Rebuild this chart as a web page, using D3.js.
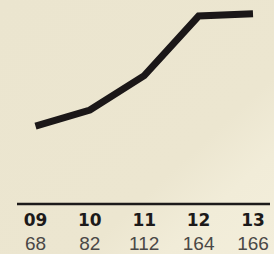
<!DOCTYPE html>
<html>
<head>
<meta charset="utf-8">
<script src="https://cdn.jsdelivr.net/npm/d3@7"></script>
<style>
  html, body { margin: 0; padding: 0; }
  body { width: 274px; height: 254px; overflow: hidden; }
</style>
</head>
<body>
<div id="chart"></div>
<script>
// years and values
var years = ["09", "10", "11", "12", "13"];
var values = [68, 82, 112, 164, 166];

var width = 274, height = 254;

var svg = d3.select("#chart").append("svg")
    .attr("width", width)
    .attr("height", height);

// soft beige background
var defs = svg.append("defs");
var grad = defs.append("linearGradient")
    .attr("id", "bg")
    .attr("x1", "0%").attr("y1", "0%")
    .attr("x2", "100%").attr("y2", "100%");
grad.append("stop").attr("offset", "0%").attr("stop-color", "#ebe5cf");
grad.append("stop").attr("offset", "65%").attr("stop-color", "#ece6d0");
grad.append("stop").attr("offset", "80%").attr("stop-color", "#f1ecd8");
grad.append("stop").attr("offset", "100%").attr("stop-color", "#f3eedb");

svg.append("rect")
    .attr("width", width)
    .attr("height", height)
    .attr("fill", "url(#bg)");

var x = d3.scalePoint()
    .domain(years)
    .range([35.5, 253]);

var y = d3.scaleLinear()
    .domain([0, 178])
    .range([204, 0]);

var data = years.map(function (d, i) { return { year: d, value: values[i] }; });

// baseline
svg.append("line")
    .attr("x1", 17).attr("x2", 270)
    .attr("y1", y(0)).attr("y2", y(0))
    .attr("stroke", "#1c1a1a")
    .attr("stroke-width", 2.5);

var line = d3.line()
    .x(function (d) { return x(d.year); })
    .y(function (d) { return y(d.value); });

svg.append("path")
    .datum(data)
    .attr("d", line)
    .attr("fill", "none")
    .attr("stroke", "#1b1718")
    .attr("stroke-width", 7)
    .attr("stroke-linejoin", "miter")
    .attr("stroke-linecap", "butt");

// year labels
svg.selectAll(".year")
    .data(data)
    .enter().append("text")
    .attr("class", "year")
    .attr("x", function (d) { return x(d.year); })
    .attr("y", 225.5)
    .attr("text-anchor", "middle")
    .style("font-family", "'DejaVu Sans', sans-serif")
    .style("font-weight", "bold")
    .style("font-size", "17px")
    .attr("fill", "#1c1a1a")
    .text(function (d) { return d.year; });

// value labels
svg.selectAll(".val")
    .data(data)
    .enter().append("text")
    .attr("class", "val")
    .attr("x", function (d) { return x(d.year); })
    .attr("y", 250)
    .attr("text-anchor", "middle")
    .style("font-family", "'Liberation Sans', Arial, sans-serif")
    .style("font-size", "19px")
    .attr("fill", "#4a4846")
    .text(function (d) { return d.value; });
</script>
</body>
</html>
